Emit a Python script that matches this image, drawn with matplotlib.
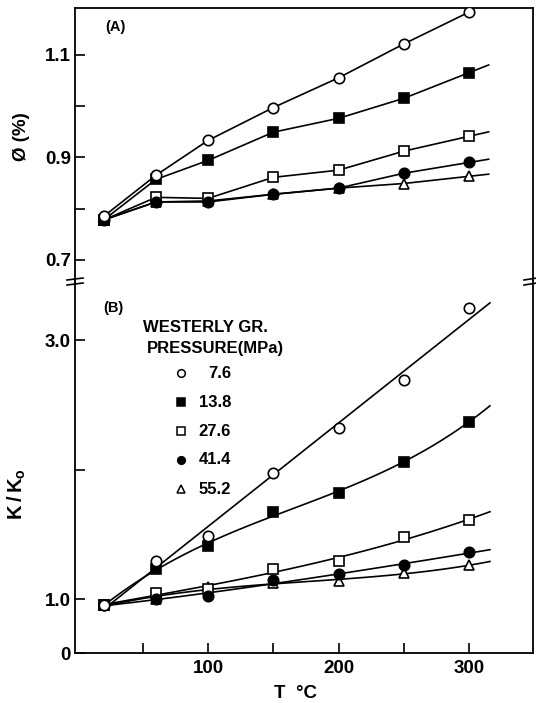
import numpy as np
import matplotlib
matplotlib.use("Agg")
import matplotlib.pyplot as plt
from matplotlib.lines import Line2D

plt.rcParams["font.family"] = ["Liberation Sans", "DejaVu Sans"]
plt.rcParams["font.weight"] = "bold"
plt.rcParams["mathtext.fontset"] = "custom"
plt.rcParams["mathtext.rm"] = "Liberation Sans:bold"
plt.rcParams["mathtext.bf"] = "Liberation Sans:bold"

# temperatures (deg C)
temps = [20, 60, 100, 150, 200, 250, 300]

# (A) porosity, %
phi_76 = [0.785, 0.865, 0.933, 0.997, 1.055, 1.121, 1.183]
phi_138 = [0.778, 0.857, 0.894, 0.949, 0.976, 1.015, 1.065]
phi_276 = [0.778, 0.822, 0.820, 0.861, 0.875, 0.912, 0.941]
phi_414 = [0.778, 0.813, 0.813, 0.828, 0.840, 0.869, 0.890]
phi_552 = [0.778, 0.813, 0.815, 0.828, 0.840, 0.849, 0.863]

# (B) permeability ratio K/Ko
k_76 = [0.95, 1.29, 1.49, 1.97, 2.32, 2.69, 3.25]
k_138 = [0.95, 1.23, 1.41, 1.67, 1.82, 2.06, 2.37]
k_276 = [0.95, 1.05, 1.08, 1.23, 1.29, 1.48, 1.61]
k_414 = [0.95, 1.00, 1.02, 1.15, 1.19, 1.26, 1.36]
k_552 = [0.95, 1.00, 1.09, 1.12, 1.14, 1.20, 1.26]

pressures = ["7.6", "13.8", "27.6", "41.4", "55.2"]
styles = [("o", "white"), ("s", "black"), ("s", "white"), ("o", "black"), ("^", "white")]
fit_deg = [1, 3, 3, 3, 3]

W, H = 536, 703
fig = plt.figure(figsize=(W / 100, H / 100), dpi=100)


def fx(px):
    return px / W


def fy(py):
    return 1 - py / H


x_left, x_right = 75, 533
y_top, y_brk, y_bot = 8, 281, 653
axA = fig.add_axes([fx(x_left), fy(y_brk), fx(x_right - x_left), (y_brk - y_top) / H])
axB = fig.add_axes([fx(x_left), fy(y_bot), fx(x_right - x_left), (y_bot - y_brk) / H])

lw = 1.2
ms = 7.5

# panel A: straight segments, most series run on a little past 300
seriesA = [phi_76, phi_138, phi_276, phi_414, phi_552]
for i, vals in enumerate(seriesA):
    axA.plot(temps, vals, color="black", lw=lw, zorder=2)
    if i > 0:
        slope = (vals[-1] - vals[-2]) / (temps[-1] - temps[-2])
        axA.plot([temps[-1], 315], [vals[-1], vals[-1] + slope * 15],
                 color="black", lw=lw, zorder=2)
order = [4, 2, 3, 1, 0]
for i in order:
    mk, fc = styles[i]
    axA.plot(temps, seriesA[i], ls="none", marker=mk, mfc=fc, mec="black",
             mew=1.2, ms=ms, zorder=3 + order.index(i))

# panel B: smooth fitted curves
seriesB = [k_76, k_138, k_276, k_414, k_552]
tt = np.linspace(20, 316, 120)
for vals, deg in zip(seriesB, fit_deg):
    coef = np.polyfit(temps, vals, deg)
    axB.plot(tt, np.polyval(coef, tt), color="black", lw=lw, zorder=2)
for i in order:
    mk, fc = styles[i]
    axB.plot(temps, seriesB[i], ls="none", marker=mk, mfc=fc, mec="black",
             mew=1.2, ms=ms, zorder=3 + order.index(i))

for ax in (axA, axB):
    ax.set_xlim(-2, 349)
    ax.tick_params(direction="in", length=7, width=1.2, labelsize=13.5,
                   top=False, right=False)
    for sp in ax.spines.values():
        sp.set_linewidth(1.3)

axA.set_ylim(0.659, 1.191)
axA.set_yticks([0.7, 0.8, 0.9, 1.0, 1.1])
axA.set_yticklabels(["0.7", "", "0.9", "", "1.1"], fontweight="bold")
axA.set_xticks([])
axA.spines["bottom"].set_visible(False)
axA.tick_params(axis="y", pad=3)

ybot = 0.583
axB.set_ylim(ybot, 3.456)
axB.set_yticks([ybot, 1.0, 2.0, 3.0])
axB.set_yticklabels(["0", "1.0", "", "3.0"], fontweight="bold")
axB.set_xticks([50, 100, 150, 200, 250, 300])
axB.set_xticklabels(["", "100", "", "200", "", "300"], fontweight="bold")
axB.spines["top"].set_visible(False)
axB.tick_params(axis="y", pad=3)
axB.tick_params(axis="x", pad=5)

# axis break marks
for yy in (279, 284):
    fig.add_artist(Line2D([fx(67), fx(83)], [fy(yy + 1), fy(yy - 1)], color="black", lw=1.2))
    fig.add_artist(Line2D([fx(524), fx(537)], [fy(yy + 1), fy(yy - 1)], color="black", lw=1.2))

# labels
fig.text(fx(115), fy(27), "(A)", fontsize=10.5, fontweight="bold", ha="center", va="center")
fig.text(fx(113), fy(308), "(B)", fontsize=10.5, fontweight="bold", ha="center", va="center")
fig.text(fx(22), fy(137), "Ø (%)", fontsize=13.5, fontweight="bold", rotation=90,
         ha="center", va="center")
fig.text(fx(17), fy(494), r"$\mathbf{K\,/\,K_o}$", fontsize=14.5, rotation=90,
         ha="center", va="center")
fig.text(fx(296), fy(693), "T  °C", fontsize=13.5, fontweight="bold", ha="center", va="center")

# legend
fig.text(fx(143), fy(327), "WESTERLY GR.", fontsize=12, fontweight="bold", ha="left", va="center")
fig.text(fx(147), fy(349), "PRESSURE(MPa)", fontsize=12, fontweight="bold", ha="left", va="center")
leg_y = [373, 402, 431, 460, 489]
for lab, (mk, fc), yy in zip(pressures, styles, leg_y):
    fig.add_artist(Line2D([fx(181)], [fy(yy)], ls="none", marker=mk, mfc=fc, mec="black",
                          mew=1.1, ms=5.5))
    fig.text(fx(231), fy(yy), lab, fontsize=12, fontweight="bold", ha="right", va="center")

fig.savefig("out.png", dpi=100)
